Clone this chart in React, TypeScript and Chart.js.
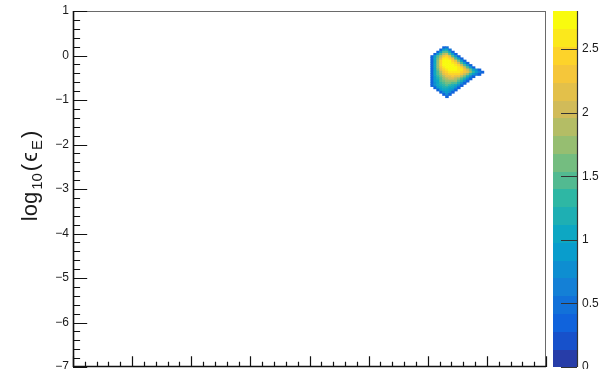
import { useEffect, useRef } from "react";
import { Chart, registerables } from "chart.js";

Chart.register(...registerables);

// Axis ranges and ticks
const xMin = -7;
const xMax = 1;
const yMin = -7;
const yMax = 1;
const xMajorTicks = [-7, -6, -5, -4, -3, -2, -1, 0, 1];
const yMajorTicks = [1, 0, -1, -2, -3, -4, -5, -6, -7];
const yTickLabels = ["1", "0", "\u22121", "\u22122", "\u22123", "\u22124", "\u22125", "\u22126", "\u22127"];
const minorDivisions = 5;

// Colour axis
const zMin = 0;
const zMax = 2.8;
const zContours = 20;
const zTicks = [0, 0.5, 1, 1.5, 2, 2.5];
const zTickLabels = ["0", "0.5", "1", "1.5", "2", "2.5"];

// 2D histogram: bin centres and contents (rows top to bottom)
const binWidth = 0.05;
const binXCenters = [
  -0.925, -0.875, -0.825, -0.775, -0.725, -0.675, -0.625, -0.575, -0.525,
  -0.475, -0.425, -0.375, -0.325, -0.275, -0.225, -0.175, -0.125, -0.075,
];
const binYCenters = [
  0.175, 0.125, 0.075, 0.025, -0.025, -0.075, -0.125, -0.175, -0.225, -0.275, -0.325, -0.375,
  -0.425, -0.475, -0.525, -0.575, -0.625, -0.675, -0.725, -0.775, -0.825, -0.875, -0.925,
];
const binContents = [
  [0, 0, 0, 0, 0.4, 0.5, 0, 0, 0, 0, 0, 0, 0, 0, 0, 0, 0, 0],
  [0, 0, 0, 0.4, 0.9, 1.0, 0.5, 0, 0, 0, 0, 0, 0, 0, 0, 0, 0, 0],
  [0, 0, 0.4, 0.9, 1.4, 1.5, 1.0, 0.4, 0, 0, 0, 0, 0, 0, 0, 0, 0, 0],
  [0, 0.4, 0.9, 1.5, 1.9, 2.0, 1.5, 0.9, 0.4, 0, 0, 0, 0, 0, 0, 0, 0, 0],
  [0.4, 0.9, 1.4, 1.9, 2.3, 2.4, 2.1, 1.5, 0.9, 0.4, 0, 0, 0, 0, 0, 0, 0, 0],
  [0.4, 1.0, 1.6, 2.2, 2.55, 2.65, 2.5, 2.1, 1.5, 0.9, 0.4, 0, 0, 0, 0, 0, 0, 0],
  [0.4, 1.0, 1.7, 2.4, 2.7, 2.78, 2.7, 2.5, 2.1, 1.6, 0.9, 0.4, 0, 0, 0, 0, 0, 0],
  [0.4, 1.1, 1.8, 2.45, 2.75, 2.78, 2.75, 2.65, 2.4, 2.0, 1.5, 0.9, 0.4, 0, 0, 0, 0, 0],
  [0.4, 1.1, 1.8, 2.4, 2.7, 2.78, 2.78, 2.75, 2.6, 2.4, 2.0, 1.5, 0.9, 0.4, 0, 0, 0, 0],
  [0.4, 1.1, 1.7, 2.3, 2.6, 2.75, 2.78, 2.75, 2.7, 2.6, 2.4, 2.0, 1.5, 0.9, 0.4, 0, 0, 0],
  [0.4, 1.0, 1.6, 2.1, 2.45, 2.65, 2.72, 2.75, 2.72, 2.65, 2.55, 2.35, 2.0, 1.6, 1.1, 0.8, 0.4, 0],
  [0.4, 1.0, 1.5, 1.9, 2.3, 2.5, 2.6, 2.65, 2.65, 2.6, 2.5, 2.35, 2.1, 1.7, 1.3, 0.9, 0.6, 0.4],
  [0.4, 1.0, 1.4, 1.8, 2.1, 2.3, 2.4, 2.45, 2.45, 2.4, 2.25, 2.05, 1.7, 1.3, 0.9, 0.6, 0.4, 0],
  [0.4, 0.9, 1.3, 1.6, 1.9, 2.1, 2.2, 2.25, 2.2, 2.1, 1.9, 1.6, 1.2, 0.8, 0.4, 0, 0, 0],
  [0.4, 0.9, 1.2, 1.5, 1.7, 1.9, 2.0, 2.0, 1.95, 1.8, 1.5, 1.2, 0.8, 0.4, 0, 0, 0, 0],
  [0.4, 0.9, 1.1, 1.4, 1.6, 1.7, 1.8, 1.8, 1.7, 1.5, 1.2, 0.8, 0.4, 0, 0, 0, 0, 0],
  [0.4, 0.8, 1.1, 1.3, 1.5, 1.55, 1.6, 1.5, 1.4, 1.2, 0.8, 0.4, 0, 0, 0, 0, 0, 0],
  [0.4, 0.8, 1.0, 1.2, 1.35, 1.4, 1.35, 1.25, 1.05, 0.8, 0.4, 0, 0, 0, 0, 0, 0, 0],
  [0, 0.4, 0.9, 1.1, 1.2, 1.2, 1.1, 1.0, 0.8, 0.4, 0, 0, 0, 0, 0, 0, 0, 0],
  [0, 0, 0.4, 0.9, 1.05, 1.05, 0.95, 0.8, 0.4, 0, 0, 0, 0, 0, 0, 0, 0, 0],
  [0, 0, 0, 0.4, 0.8, 0.9, 0.75, 0.4, 0, 0, 0, 0, 0, 0, 0, 0, 0, 0],
  [0, 0, 0, 0, 0.4, 0.7, 0.4, 0, 0, 0, 0, 0, 0, 0, 0, 0, 0, 0],
  [0, 0, 0, 0, 0, 0.4, 0, 0, 0, 0, 0, 0, 0, 0, 0, 0, 0, 0],
];

const yTitleParts = [
  { text: "log", sub: false },
  { text: "10", sub: true },
  { text: "(", sub: false },
  { text: "\u03f5", sub: false },
  { text: "E", sub: true },
  { text: ")", sub: false },
];

// "Bird" (parula-like) palette stops
const birdR = [0.2082, 0.0592, 0.078, 0.0232, 0.1802, 0.5301, 0.8186, 0.9956, 0.9764];
const birdG = [0.1664, 0.3599, 0.5041, 0.6419, 0.7178, 0.7492, 0.7328, 0.7862, 0.9832];
const birdB = [0.5293, 0.8684, 0.8385, 0.7914, 0.6425, 0.4662, 0.3499, 0.1968, 0.0539];

function birdColor(t: number): string {
  const n = birdR.length - 1;
  const p = Math.max(0, Math.min(1, t)) * n;
  const i = Math.min(n - 1, Math.floor(p));
  const f = p - i;
  const c = (a: number[]) => Math.round(255 * (a[i] + (a[i + 1] - a[i]) * f));
  return `rgb(${c(birdR)},${c(birdG)},${c(birdB)})`;
}

function contourColor(level: number): string {
  const ncolors = 255;
  const idx = Math.floor(((level + 0.99) * ncolors) / zContours);
  return birdColor(Math.min(idx, ncolors - 1) / (ncolors - 1));
}

function colorForValue(v: number): string {
  const level = Math.min(zContours - 1, Math.floor(((v - zMin) / (zMax - zMin)) * zContours));
  return contourColor(Math.max(0, level));
}

const FONT = "'Liberation Sans', Arial, 'DejaVu Sans', sans-serif";

const rootStylePlugin = {
  id: "rootStyle",
  beforeDraw(chart: any) {
    const ctx = chart.ctx;
    ctx.save();
    ctx.fillStyle = "#ffffff";
    ctx.fillRect(0, 0, chart.width, chart.height);
    ctx.restore();
  },
  afterDraw(chart: any) {
    const ctx: CanvasRenderingContext2D = chart.ctx;
    const xs = chart.scales.x;
    const ys = chart.scales.y;
    const zs = chart.scales.z;
    const area = chart.chartArea;

    // histogram cells
    ctx.save();
    ctx.beginPath();
    ctx.rect(area.left, area.top, area.right - area.left, area.bottom - area.top);
    ctx.clip();
    ctx.filter = "blur(0.5px)";
    binYCenters.forEach((cy, r) => {
      binXCenters.forEach((cx, c) => {
        const v = binContents[r][c];
        if (v <= 0) return;
        const x0 = xs.getPixelForValue(cx - binWidth / 2);
        const x1 = xs.getPixelForValue(cx + binWidth / 2);
        const y0 = ys.getPixelForValue(cy + binWidth / 2);
        const y1 = ys.getPixelForValue(cy - binWidth / 2);
        ctx.fillStyle = colorForValue(v);
        ctx.fillRect(x0 - 0.3, y0 - 0.3, x1 - x0 + 0.6, y1 - y0 + 0.6);
      });
    });
    ctx.restore();

    // frame
    ctx.save();
    ctx.strokeStyle = "#6a6a6a";
    ctx.lineWidth = 1;
    ctx.strokeRect(area.left + 0.5, area.top + 0.5, area.right - area.left - 1, area.bottom - area.top - 1);
    ctx.strokeStyle = "#111";
    ctx.lineWidth = 1.6;
    ctx.beginPath();
    ctx.moveTo(area.left + 0.5, area.top);
    ctx.lineTo(area.left + 0.5, area.bottom);
    ctx.moveTo(area.left, area.bottom - 0.5);
    ctx.lineTo(area.right, area.bottom - 0.5);
    ctx.stroke();

    // ticks drawn inside the frame
    const plotW = area.right - area.left;
    const plotH = area.bottom - area.top;
    const xMajorLen = plotH * 0.03;
    const yMajorLen = plotW * 0.03;
    ctx.lineWidth = 1.2;
    ctx.beginPath();
    for (let k = 0; k < xMajorTicks.length; k++) {
      const v = xMajorTicks[k];
      const px = Math.round(xs.getPixelForValue(v)) + 0.5;
      ctx.moveTo(px, area.bottom);
      ctx.lineTo(px, area.bottom - xMajorLen);
      if (k < xMajorTicks.length - 1) {
        const step = (xMajorTicks[k + 1] - v) / minorDivisions;
        for (let m = 1; m < minorDivisions; m++) {
          const pm = Math.round(xs.getPixelForValue(v + m * step)) + 0.5;
          ctx.moveTo(pm, area.bottom);
          ctx.lineTo(pm, area.bottom - xMajorLen / 2);
        }
      }
    }
    for (let k = 0; k < yMajorTicks.length; k++) {
      const v = yMajorTicks[k];
      const py = Math.round(ys.getPixelForValue(v)) + 0.5;
      ctx.moveTo(area.left, py);
      ctx.lineTo(area.left + yMajorLen, py);
      if (k < yMajorTicks.length - 1) {
        const step = (yMajorTicks[k + 1] - v) / minorDivisions;
        for (let m = 1; m < minorDivisions; m++) {
          const pm = Math.round(ys.getPixelForValue(v + m * step)) + 0.5;
          ctx.moveTo(area.left, pm);
          ctx.lineTo(area.left + yMajorLen / 2, pm);
        }
      }
    }
    ctx.stroke();

    // y tick labels
    ctx.fillStyle = "#1a1a1a";
    ctx.font = `12px ${FONT}`;
    ctx.textAlign = "right";
    ctx.textBaseline = "middle";
    yMajorTicks.forEach((v, i) => {
      ctx.fillText(yTickLabels[i], area.left - 4, ys.getPixelForValue(v));
    });

    // y title with subscripts
    const mainSize = 22;
    const subSize = 15;
    const gap = 2;
    const widths = yTitleParts.map((p) => {
      ctx.font = `${p.sub ? subSize : mainSize}px ${FONT}`;
      return ctx.measureText(p.text).width + gap;
    });
    const total = widths.reduce((a, b) => a + b, 0);
    ctx.save();
    ctx.translate(37, 175);
    ctx.rotate(-Math.PI / 2);
    ctx.textAlign = "left";
    ctx.textBaseline = "alphabetic";
    let cursor = -total / 2;
    yTitleParts.forEach((p, i) => {
      ctx.font = `${p.sub ? subSize : mainSize}px ${FONT}`;
      ctx.fillText(p.text, cursor, p.sub ? 5 : 0);
      cursor += widths[i];
    });
    ctx.restore();

    // colour bar
    const barLeft = area.right + 7;
    const barRight = area.right + 31;
    const dz = (zMax - zMin) / zContours;
    for (let i = 0; i < zContours; i++) {
      const yTop = zs.getPixelForValue(zMin + (i + 1) * dz);
      const yBot = zs.getPixelForValue(zMin + i * dz);
      ctx.fillStyle = contourColor(i);
      ctx.fillRect(barLeft, Math.floor(yTop), barRight - barLeft, Math.ceil(yBot) - Math.floor(yTop));
    }
    ctx.strokeStyle = "#333";
    ctx.lineWidth = 1.2;
    ctx.beginPath();
    ctx.moveTo(barRight + 0.5, zs.getPixelForValue(zMax));
    ctx.lineTo(barRight + 0.5, zs.getPixelForValue(zMin));
    zTicks.forEach((v) => {
      const py = Math.round(zs.getPixelForValue(v)) + 0.5;
      ctx.moveTo(barRight, py);
      ctx.lineTo(barRight - 16, py);
    });
    ctx.stroke();
    ctx.fillStyle = "#1a1a1a";
    ctx.font = `12px ${FONT}`;
    ctx.textAlign = "left";
    ctx.textBaseline = "middle";
    zTicks.forEach((v, i) => {
      ctx.fillText(zTickLabels[i], barRight + 5, zs.getPixelForValue(v));
    });
    ctx.restore();
  },
};

export default function App() {
  const canvasRef = useRef<HTMLCanvasElement | null>(null);

  useEffect(() => {
    const canvas = canvasRef.current;
    if (!canvas) return;
    const chart = new Chart(canvas, {
      type: "scatter",
      data: { datasets: [] },
      options: {
        animation: false,
        responsive: false,
        maintainAspectRatio: false,
        devicePixelRatio: 1,
        layout: { padding: { left: 73, top: 11, right: 54, bottom: 2 } },
        scales: {
          x: { type: "linear", min: xMin, max: xMax, display: false },
          y: { type: "linear", min: yMin, max: yMax, display: false },
          z: { type: "linear", position: "right", min: zMin, max: zMax, display: false },
        },
        plugins: {
          legend: { display: false },
          tooltip: { enabled: false },
        },
      },
      plugins: [rootStylePlugin],
    } as any);
    return () => chart.destroy();
  }, []);

  return (
    <canvas
      ref={canvasRef}
      width={600}
      height={369}
      style={{ position: "absolute", left: 0, top: 0, display: "block" }}
    />
  );
}
